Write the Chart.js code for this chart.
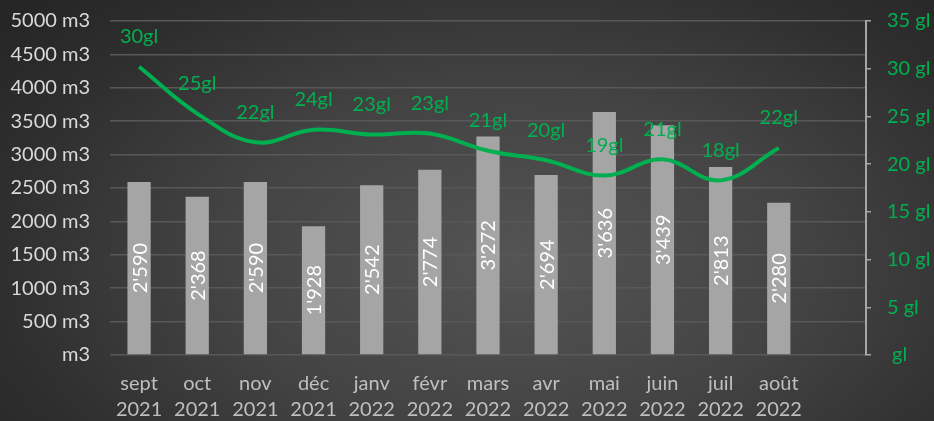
<!DOCTYPE html>
<html>
<head>
<meta charset="utf-8">
<script src="https://cdn.jsdelivr.net/npm/chart.js@4/dist/chart.umd.min.js"></script>
<style>
    html, body { margin: 0; padding: 0; }
    body {
        width: 934px;
        height: 421px;
        overflow: hidden;
        background: radial-gradient(ellipse 70% 90% at 55% 62%, #545454 0%, #434343 45%, #2e2e2e 80%, #262626 100%);
    }
    #wrap { position: relative; width: 934px; height: 421px; }
</style>
</head>
<body>
<div id="wrap"><canvas id="chart"></canvas></div>
<script>
// months shown on the x axis (Excel left one empty slot at the end)
const months = [
    ['sept', '2021'], ['oct', '2021'], ['nov', '2021'], ['déc', '2021'],
    ['janv', '2022'], ['févr', '2022'], ['mars', '2022'], ['avr', '2022'],
    ['mai', '2022'], ['juin', '2022'], ['juil', '2022'], ['août', '2022'],
    ''
];

// water volume per month (m3)
const volumes = [2590, 2368, 2590, 1928, 2542, 2774, 3272, 2694, 3636, 3439, 2813, 2280];

// consumption line (gl)
const glValues = [30.2, 25.3, 22.3, 23.6, 23.1, 23.2, 21.4, 20.4, 18.8, 20.5, 18.3, 21.7];

const volumeTicks = { min: 0, max: 5000, step: 500 };
const glTicks = { min: 0, max: 35, step: 5 };

const FONT = 'Lato';
const GREEN = '#00b050';

function formatThousands(v) {
    if (v < 1000) return String(v);
    return Math.floor(v / 1000) + "'" + String(v % 1000).padStart(3, '0');
}

// draws the value labels on bars (rotated) and above the line
const valueLabels = {
    id: 'valueLabels',
    afterDatasetsDraw(chart) {
        const ctx = chart.ctx;
        ctx.save();
        ctx.font = '20px ' + FONT;
        ctx.textAlign = 'center';
        ctx.textBaseline = 'middle';

        const barMeta = chart.getDatasetMeta(0);
        barMeta.data.forEach((el, i) => {
            if (volumes[i] == null) return;
            const p = el.getProps(['x', 'y', 'base'], true);
            ctx.save();
            ctx.translate(p.x, (p.y + p.base) / 2);
            ctx.rotate(-Math.PI / 2);
            ctx.fillStyle = '#ffffff';
            ctx.fillText(formatThousands(volumes[i]), 0, 1);
            ctx.restore();
        });

        const lineMeta = chart.getDatasetMeta(1);
        lineMeta.data.forEach((el, i) => {
            if (glValues[i] == null) return;
            const p = el.getProps(['x', 'y'], true);
            ctx.fillStyle = GREEN;
            ctx.fillText(Math.round(glValues[i]) + 'gl', p.x, p.y - 30);
        });
        ctx.restore();
    }
};

// fixed axis sizes so the plot area sits where it does in the original
function fixVertical(width) {
    return function (scale) {
        scale.width = width;
        scale.paddingTop = 0;
        scale.paddingBottom = 0;
    };
}

new Chart(document.getElementById('chart'), {
    type: 'bar',
    data: {
        labels: months,
        datasets: [
            {
                type: 'bar',
                data: volumes,
                yAxisID: 'y',
                backgroundColor: '#a5a5a5',
                categoryPercentage: 1,
                barPercentage: 0.4,
                order: 2
            },
            {
                type: 'line',
                data: glValues,
                yAxisID: 'y1',
                borderColor: GREEN,
                borderWidth: 4,
                tension: 0.4,
                pointRadius: 0,
                fill: false,
                order: 1
            }
        ]
    },
    options: {
        responsive: true,
        maintainAspectRatio: false,
        animation: false,
        layout: { padding: { top: 21, bottom: 0, left: 0, right: 0 } },
        plugins: {
            legend: { display: false },
            tooltip: { enabled: false }
        },
        scales: {
            x: {
                grid: { display: false },
                border: { display: false },
                ticks: {
                    color: '#bfbfbf',
                    font: { family: FONT, size: 20, lineHeight: 1.3 },
                    padding: 8,
                    maxRotation: 0,
                    autoSkip: false
                },
                afterFit(scale) { scale.height = 66; }
            },
            y: {
                position: 'left',
                min: volumeTicks.min,
                max: volumeTicks.max,
                grid: { color: '#585858', lineWidth: 1.5, drawTicks: false },
                border: { display: false },
                ticks: {
                    stepSize: volumeTicks.step,
                    color: '#d9d9d9',
                    font: { family: FONT, size: 20 },
                    padding: 20,
                    callback: v => v === 0 ? 'm3' : v + ' m3'
                },
                afterFit: fixVertical(110)
            },
            y1: {
                position: 'right',
                min: glTicks.min,
                max: glTicks.max,
                grid: { drawOnChartArea: false, drawTicks: true, tickLength: 5, color: '#a6a6a6', lineWidth: 1.5 },
                border: { display: true, color: '#a6a6a6', width: 2 },
                ticks: {
                    stepSize: glTicks.step,
                    color: GREEN,
                    font: { family: FONT, size: 20 },
                    padding: 16,
                    callback: v => v === 0 ? ' gl' : v + ' gl'
                },
                afterFit: fixVertical(68)
            }
        }
    },
    plugins: [valueLabels]
});
</script>
</body>
</html>
